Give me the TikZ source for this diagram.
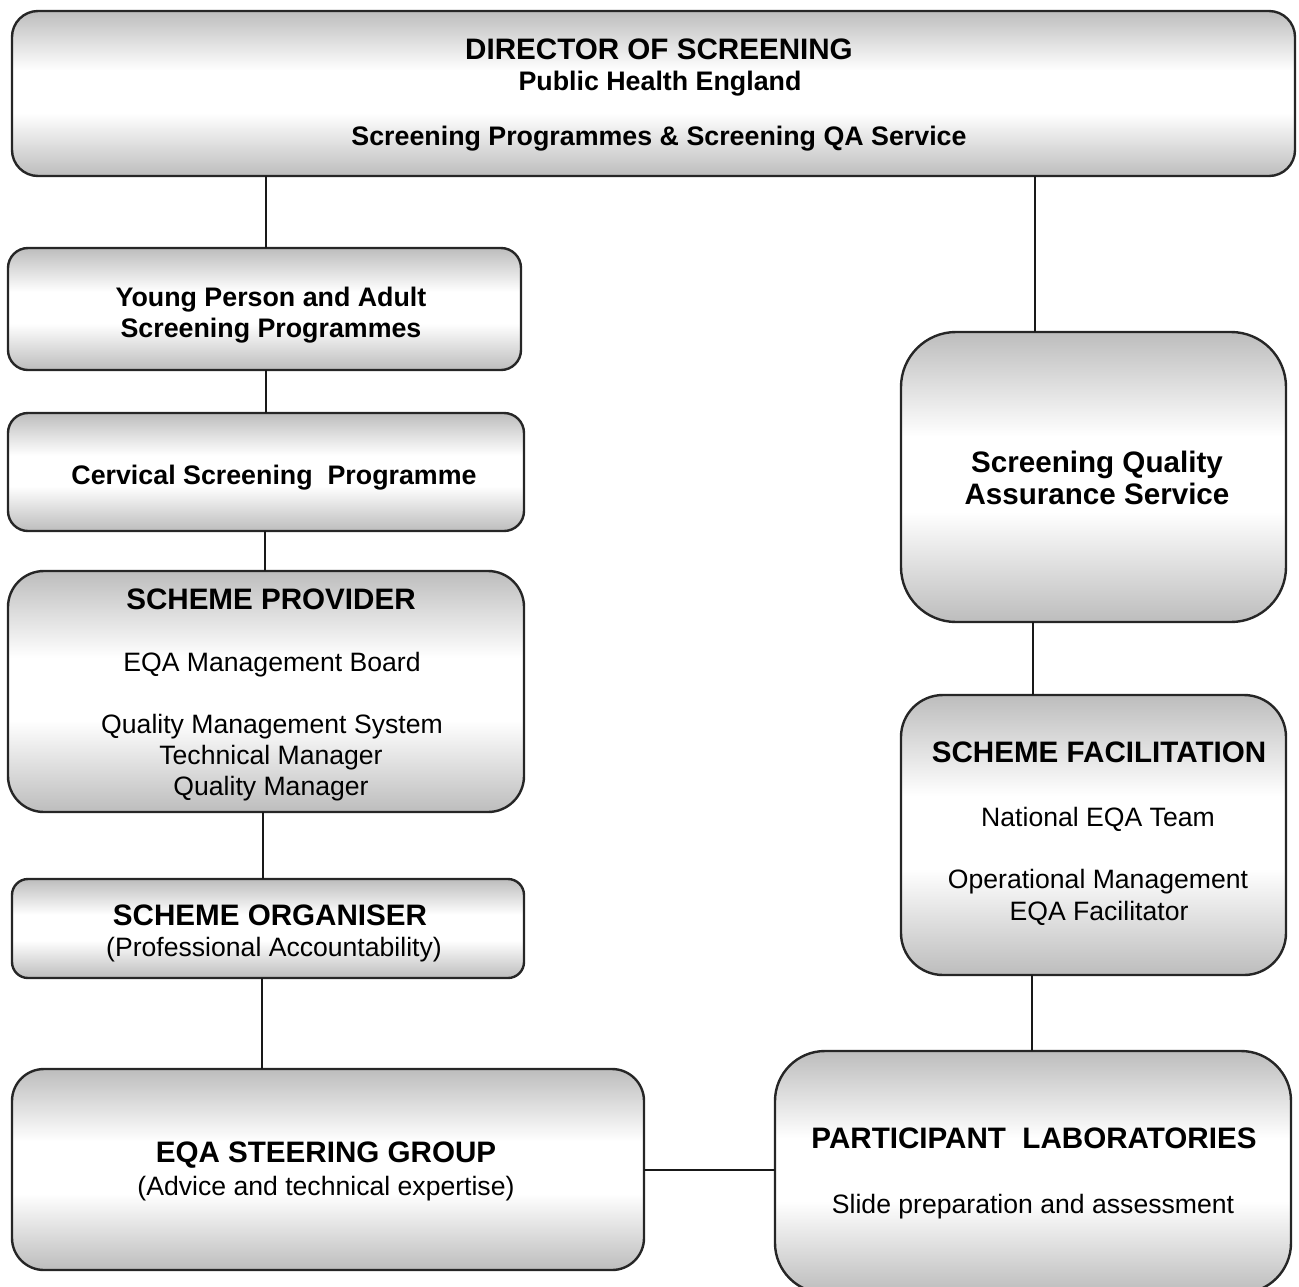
\documentclass[tikz,border=0pt]{standalone}
\usepackage{fontspec}
\setmainfont{Liberation Sans}
\pgfdeclareverticalshading{boxshade}{100bp}{color(0bp)=(black!26); color(25bp)=(black!26); color(44bp)=(white); color(57bp)=(white); color(75bp)=(black!26); color(100bp)=(black!26)}
\newcommand{\fb}{\fontsize{29.6}{34}\selectfont\bfseries}
\newcommand{\fm}{\fontsize{26.8}{31}\selectfont\bfseries}
\newcommand{\fr}{\fontsize{26.6}{31}\selectfont}
\begin{document}
\begin{tikzpicture}[x=1pt,y=-1pt,
  box/.style={draw=black!85, line width=2.4pt, shading=boxshade, inner sep=0pt, outer sep=0pt},
  txt/.style={anchor=base, inner sep=0pt},
  link/.style={draw=black!90, line width=2.8pt}]
\useasboundingbox (0,0) rectangle (1299,1286);
% boxes
\node[box, rounded corners=26pt, minimum width=1283pt, minimum height=165pt] (dir) at (653.5,93.5) {};
\node[box, rounded corners=20pt, minimum width=513pt, minimum height=122pt] (ypa) at (264.5,309) {};
\node[box, rounded corners=20pt, minimum width=516pt, minimum height=118pt] (csp) at (266,472) {};
\node[box, rounded corners=36pt, minimum width=516pt, minimum height=241pt] (sp) at (266,691.5) {};
\node[box, rounded corners=16pt, minimum width=512pt, minimum height=99pt] (so) at (268,928.5) {};
\node[box, rounded corners=32pt, minimum width=632pt, minimum height=201pt] (sg) at (328,1169.5) {};
\node[box, rounded corners=55pt, minimum width=385pt, minimum height=290pt] (sqa) at (1093.5,477) {};
\node[box, rounded corners=42pt, minimum width=385pt, minimum height=280pt] (sf) at (1093.5,835) {};
\node[box, rounded corners=50pt, minimum width=516pt, minimum height=242pt] (pl) at (1033,1172) {};
% connectors
\coordinate (c1) at (266,0);
\draw[link] (dir.south -| c1) -- (ypa.north -| c1);
\draw[link] (ypa.south -| c1) -- (csp.north -| c1);
\coordinate (c2) at (265,0);
\draw[link] (csp.south -| c2) -- (sp.north -| c2);
\coordinate (c3) at (263,0);
\draw[link] (sp.south -| c3) -- (so.north -| c3);
\coordinate (c4) at (262,0);
\draw[link] (so.south -| c4) -- (sg.north -| c4);
\coordinate (c5) at (1035,0);
\draw[link] (dir.south -| c5) -- (sqa.north -| c5);
\coordinate (c6) at (1033,0);
\draw[link] (sqa.south -| c6) -- (sf.north -| c6);
\coordinate (c7) at (1032,0);
\draw[link] (sf.south -| c7) -- (pl.north -| c7);
\coordinate (c8) at (0,1170);
\draw[link] (sg.east |- c8) -- (pl.west |- c8);
% texts
\node[txt] (t1) at (659,59) {\fb DIRECTOR OF SCREENING};
\node[txt] (t2) at (660,90) {\fm Public Health England};
\node[txt] (t3) at (659,145) {\fm Screening Programmes \& Screening QA Service};
\node[txt] (t4) at (271,306) {\fm Young Person and Adult};
\node[txt] (t5) at (271,337) {\fm Screening Programmes};
\node[txt] (t6) at (274,484) {\fm Cervical Screening\ \ Programme};
\node[txt] (t7) at (271,609) {\fb SCHEME PROVIDER};
\node[txt] (t8) at (272,671) {\fr EQA Management Board};
\node[txt] (t9) at (272,733) {\fr Quality Management System};
\node[txt] (t10) at (271,764) {\fr Technical Manager};
\node[txt] (t11) at (271,795) {\fr Quality Manager};
\node[txt] (t12) at (270,925) {\fb SCHEME ORGANISER};
\node[txt] (t13) at (274,956) {\fr (Professional Accountability)};
\node[txt] (t14) at (326,1162) {\fb EQA STEERING GROUP};
\node[txt] (t15) at (326,1195) {\fr (Advice and technical expertise)};
\node[txt] (t16) at (1097,472) {\fb Screening Quality};
\node[txt] (t17) at (1097,504) {\fb Assurance Service};
\node[txt] (t18) at (1099,762) {\fb SCHEME FACILITATION};
\node[txt] (t19) at (1098,826) {\fr National EQA Team};
\node[txt] (t20) at (1098,888) {\fr Operational Management};
\node[txt] (t21) at (1099,920) {\fr EQA Facilitator};
\node[txt] (t22) at (1034,1148) {\fb PARTICIPANT\ \ LABORATORIES};
\node[txt] (t23) at (1033,1213) {\fr Slide preparation and assessment};
\end{tikzpicture}
\end{document}
